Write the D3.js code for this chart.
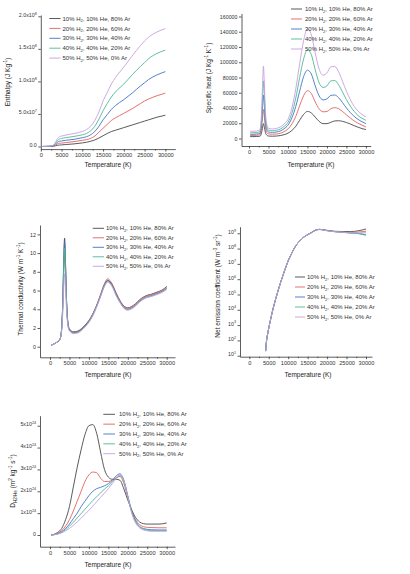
<!DOCTYPE html>
<html><head><meta charset="utf-8">
<script src="https://cdn.jsdelivr.net/npm/d3@7"></script>
<style>html,body{margin:0;padding:0;background:#fff}svg{display:block;font-family:"Liberation Sans",Arial,sans-serif}</style>
</head><body>
<svg id="c" width="410" height="574"></svg>
<script>
// ---------- shared ----------
const mixtures = [
  [["10% H",""],["2","sub"],[", 10% He, 80% Ar",""]],
  [["20% H",""],["2","sub"],[", 20% He, 60% Ar",""]],
  [["30% H",""],["2","sub"],[", 30% He, 40% Ar",""]],
  [["40% H",""],["2","sub"],[", 40% He, 20% Ar",""]],
  [["50% H",""],["2","sub"],[", 50% He, 0% Ar",""]]
];
const colors = ["#474747", "#e0625f", "#4174c4", "#4cb994", "#c89ee0"];
const xTicks = [0, 5000, 10000, 15000, 20000, 25000, 30000];

// ---------- enthalpy (J/kg) ----------
const tEnth = [300, 2000, 3000, 3500, 4000, 4500, 5000, 6000, 8000, 10000, 11000, 12000, 13000, 14000, 15000, 16000, 17000, 18000, 20000, 22000, 24000, 25000, 26000, 28000, 30000];
const enth10 = [0, 0.001e8, 0.004e8, 0.01e8, 0.018e8, 0.022e8, 0.025e8, 0.03e8, 0.04e8, 0.055e8, 0.065e8, 0.08e8, 0.1e8, 0.13e8, 0.165e8, 0.2e8, 0.23e8, 0.25e8, 0.29e8, 0.33e8, 0.37e8, 0.39e8, 0.41e8, 0.45e8, 0.48e8];
const enth20 = [0, 0.002e8, 0.008e8, 0.02e8, 0.04e8, 0.05e8, 0.052e8, 0.06e8, 0.075e8, 0.095e8, 0.105e8, 0.125e8, 0.16e8, 0.22e8, 0.28e8, 0.34e8, 0.4e8, 0.44e8, 0.51e8, 0.58e8, 0.66e8, 0.7e8, 0.73e8, 0.78e8, 0.82e8];
const enth30 = [0, 0.003e8, 0.012e8, 0.032e8, 0.065e8, 0.08e8, 0.085e8, 0.095e8, 0.11e8, 0.135e8, 0.15e8, 0.18e8, 0.23e8, 0.31e8, 0.41e8, 0.49e8, 0.57e8, 0.63e8, 0.72e8, 0.82e8, 0.93e8, 0.98e8, 1.03e8, 1.1e8, 1.15e8];
const enth40 = [0, 0.004e8, 0.016e8, 0.045e8, 0.09e8, 0.115e8, 0.125e8, 0.135e8, 0.155e8, 0.18e8, 0.2e8, 0.24e8, 0.31e8, 0.42e8, 0.55e8, 0.66e8, 0.76e8, 0.84e8, 0.96e8, 1.1e8, 1.23e8, 1.29e8, 1.35e8, 1.43e8, 1.48e8];
const enth50 = [0, 0.005e8, 0.02e8, 0.06e8, 0.12e8, 0.15e8, 0.16e8, 0.175e8, 0.2e8, 0.23e8, 0.26e8, 0.31e8, 0.4e8, 0.53e8, 0.7e8, 0.83e8, 0.96e8, 1.06e8, 1.22e8, 1.39e8, 1.55e8, 1.62e8, 1.68e8, 1.76e8, 1.81e8];
const enthTicks = [0, 5e7, 1e8, 1.5e8, 2e8];
const enthTickLabels = [[["0.0",""]], [["5.0x10",""],["7","sup"]], [["1.0x10",""],["8","sup"]], [["1.5x10",""],["8","sup"]], [["2.0x10",""],["8","sup"]]];

// ---------- specific heat (J/kg/K) ----------
const tCp = [300, 1000, 2000, 2800, 3200, 3500, 3700, 3900, 4200, 4600, 5000, 6000, 7000, 8000, 9000, 10000, 11000, 12000, 13000, 14000, 15000, 16000, 17000, 18000, 19000, 20000, 21000, 22000, 23000, 24000, 25000, 26000, 27000, 28000, 29000, 30000];
const cp10 = [2500, 2500, 2600, 3000, 7000, 15000, 19500, 16000, 8000, 4200, 3200, 3000, 3200, 3800, 5000, 7000, 10500, 16000, 24000, 31500, 35500, 33500, 28000, 22500, 19500, 19500, 21200, 23000, 23300, 22500, 21000, 19000, 16800, 14800, 13000, 11700];
const cp20 = [4000, 4000, 4200, 5000, 13000, 29000, 38000, 31000, 15000, 7500, 6000, 5600, 5900, 6800, 9000, 12500, 19000, 29000, 43000, 56000, 62700, 59000, 48000, 39000, 35000, 35500, 39000, 40500, 39000, 35500, 31000, 27000, 23000, 20000, 17500, 15200];
const cp30 = [5500, 5500, 5800, 7000, 19000, 43000, 57000, 46000, 22000, 11000, 8500, 8000, 8500, 9800, 12800, 17500, 27000, 42000, 62000, 81000, 89600, 84500, 69000, 56000, 50600, 52000, 56500, 57000, 53500, 47000, 40000, 34000, 29000, 25000, 22000, 19500];
const cp40 = [7500, 7500, 7800, 9300, 25000, 57000, 75500, 61000, 29000, 14500, 11000, 10200, 10800, 12300, 15800, 21000, 33000, 53000, 80000, 104000, 116500, 110000, 90000, 73000, 67000, 69000, 75500, 76000, 70500, 61000, 51000, 42500, 35500, 30000, 26500, 23800];
const cp50 = [9500, 9500, 9800, 11500, 32000, 72000, 95000, 77000, 37000, 18000, 13500, 12500, 13200, 15000, 19000, 25000, 40000, 65000, 98000, 128000, 144000, 136000, 112000, 91000, 83000, 86000, 94000, 94500, 87500, 75000, 62000, 51000, 42000, 36000, 31500, 28500];
const cpTicks = [0, 20000, 40000, 60000, 80000, 100000, 120000, 140000, 160000];

// ---------- thermal conductivity (W/m/K) ----------
const tK = [300, 1000, 2000, 2600, 3000, 3300, 3550, 3750, 3950, 4250, 4600, 5000, 6000, 7000, 8000, 9000, 10000, 11000, 12000, 13000, 14000, 14800, 16000, 17000, 18000, 19000, 20000, 21000, 22000, 23000, 24000, 25000, 26000, 27000, 28000, 29000, 30000];
const k10 = [0.15, 0.3, 0.55, 0.85, 2.0, 5.0, 9.5, 11.6, 9.5, 5.0, 2.6, 1.9, 1.6, 1.65, 1.9, 2.3, 2.8, 3.5, 4.4, 5.5, 6.6, 7.1, 6.6, 5.7, 4.9, 4.35, 4.15, 4.3, 4.6, 5.0, 5.3, 5.5, 5.6, 5.75, 5.9, 6.1, 6.45];
const k20 = [0.15, 0.3, 0.55, 0.85, 1.9, 4.5, 8.3, 9.8, 8.2, 4.6, 2.5, 1.85, 1.55, 1.6, 1.85, 2.25, 2.75, 3.5, 4.45, 5.6, 6.75, 7.25, 6.7, 5.75, 4.9, 4.3, 4.1, 4.25, 4.55, 4.95, 5.25, 5.45, 5.55, 5.7, 5.85, 6.05, 6.35];
const k30 = [0.15, 0.3, 0.55, 0.85, 2.0, 4.9, 9.2, 11.2, 9.2, 4.9, 2.5, 1.8, 1.5, 1.55, 1.8, 2.2, 2.7, 3.4, 4.35, 5.45, 6.6, 7.05, 6.55, 5.6, 4.8, 4.2, 4.0, 4.15, 4.45, 4.85, 5.15, 5.35, 5.45, 5.6, 5.75, 5.95, 6.25];
const k40 = [0.15, 0.3, 0.55, 0.85, 1.95, 4.7, 8.8, 10.5, 8.7, 4.7, 2.4, 1.75, 1.45, 1.5, 1.75, 2.15, 2.65, 3.35, 4.3, 5.4, 6.5, 6.95, 6.45, 5.5, 4.75, 4.15, 3.95, 4.1, 4.4, 4.8, 5.1, 5.3, 5.4, 5.55, 5.7, 5.9, 6.2];
const k50 = [0.15, 0.3, 0.55, 0.85, 1.7, 3.8, 6.5, 7.8, 6.6, 3.9, 2.2, 1.7, 1.4, 1.45, 1.7, 2.1, 2.6, 3.3, 4.25, 5.35, 6.45, 6.9, 6.4, 5.45, 4.7, 4.1, 3.9, 4.05, 4.35, 4.75, 5.05, 5.25, 5.35, 5.5, 5.65, 5.85, 6.1];
const kTicks = [0, 2, 4, 6, 8, 10, 12];

// ---------- net emission coefficient ----------
const tNec = [4200, 4400, 4700, 5000, 5500, 6000, 7000, 8000, 9000, 10000, 11000, 12000, 13000, 14000, 15000, 16000, 17000, 18000, 19000, 20000, 22000, 24000, 26000, 28000, 30000];
const nec10 = [2.0e1, 8.0e1, 2.5e2, 6.3e2, 2.5e3, 9.0e3, 8.0e4, 5.6e5, 3.2e6, 1.6e7, 5.6e7, 1.6e8, 3.2e8, 5.6e8, 8.2e8, 1.15e9, 1.6e9, 1.8e9, 1.7e9, 1.55e9, 1.35e9, 1.3e9, 1.3e9, 1.45e9, 1.9e9];
const nec20 = [2.0e1, 8.0e1, 2.5e2, 6.3e2, 2.5e3, 9.0e3, 8.0e4, 5.6e5, 3.2e6, 1.6e7, 5.6e7, 1.6e8, 3.2e8, 5.6e8, 8.0e8, 1.12e9, 1.6e9, 1.8e9, 1.7e9, 1.5e9, 1.3e9, 1.2e9, 1.15e9, 1.2e9, 1.35e9];
const nec30 = [2.0e1, 8.0e1, 2.5e2, 6.3e2, 2.5e3, 9.0e3, 8.0e4, 5.6e5, 3.2e6, 1.6e7, 5.6e7, 1.6e8, 3.2e8, 5.6e8, 7.9e8, 1.1e9, 1.58e9, 1.78e9, 1.68e9, 1.5e9, 1.28e9, 1.15e9, 1.05e9, 9.5e8, 7.5e8];
const nec40 = [2.0e1, 8.0e1, 2.5e2, 6.3e2, 2.5e3, 9.0e3, 8.0e4, 5.6e5, 3.2e6, 1.6e7, 5.6e7, 1.6e8, 3.2e8, 5.6e8, 7.9e8, 1.1e9, 1.56e9, 1.76e9, 1.66e9, 1.48e9, 1.27e9, 1.15e9, 1.05e9, 1.0e9, 8.2e8];
const nec50 = [2.0e1, 8.0e1, 2.5e2, 6.3e2, 2.5e3, 9.0e3, 8.0e4, 5.6e5, 3.2e6, 1.6e7, 5.6e7, 1.6e8, 3.2e8, 5.6e8, 7.8e8, 1.08e9, 1.55e9, 1.75e9, 1.65e9, 1.47e9, 1.27e9, 1.16e9, 1.08e9, 1.05e9, 1.1e9];
const necTicks = [1e1, 1e2, 1e3, 1e4, 1e5, 1e6, 1e7, 1e8, 1e9];
const necTickLabels = [1,2,3,4,5,6,7,8,9].map(e => [["10",""],[String(e),"sup"]]);

// ---------- D H2/He ----------
const tD = [300, 1000, 2000, 3000, 4000, 5000, 6000, 7000, 8000, 9000, 10000, 11000, 12000, 13000, 14000, 15000, 16000, 17000, 18000, 19000, 20000, 21000, 22000, 23000, 24000, 25000, 26000, 28000, 30000];
const d10 = [0, 0.03e24, 0.12e24, 0.3e24, 0.7e24, 1.3e24, 2.2e24, 3.1e24, 3.9e24, 4.6e24, 5.0e24, 5.05e24, 4.65e24, 3.8e24, 3.0e24, 2.65e24, 2.55e24, 2.55e24, 2.5e24, 2.1e24, 1.6e24, 1.15e24, 0.8e24, 0.6e24, 0.52e24, 0.5e24, 0.5e24, 0.5e24, 0.55e24];
const d20 = [0, 0.02e24, 0.08e24, 0.2e24, 0.4e24, 0.7e24, 1.1e24, 1.55e24, 2.0e24, 2.45e24, 2.75e24, 2.88e24, 2.85e24, 2.6e24, 2.45e24, 2.45e24, 2.5e24, 2.62e24, 2.68e24, 2.35e24, 1.7e24, 1.1e24, 0.7e24, 0.48e24, 0.38e24, 0.35e24, 0.34e24, 0.33e24, 0.33e24];
const d30 = [0, 0.015e24, 0.06e24, 0.15e24, 0.3e24, 0.5e24, 0.75e24, 1.0e24, 1.3e24, 1.55e24, 1.8e24, 2.0e24, 2.12e24, 2.18e24, 2.25e24, 2.35e24, 2.5e24, 2.7e24, 2.8e24, 2.5e24, 1.8e24, 1.1e24, 0.65e24, 0.4e24, 0.3e24, 0.26e24, 0.24e24, 0.23e24, 0.23e24];
const d40 = [0, 0.012e24, 0.05e24, 0.12e24, 0.24e24, 0.4e24, 0.58e24, 0.78e24, 0.98e24, 1.18e24, 1.38e24, 1.58e24, 1.75e24, 1.92e24, 2.1e24, 2.25e24, 2.42e24, 2.6e24, 2.72e24, 2.45e24, 1.75e24, 1.05e24, 0.6e24, 0.37e24, 0.27e24, 0.22e24, 0.2e24, 0.2e24, 0.2e24];
const d50 = [0, 0.01e24, 0.04e24, 0.1e24, 0.19e24, 0.3e24, 0.44e24, 0.6e24, 0.77e24, 0.95e24, 1.13e24, 1.32e24, 1.52e24, 1.72e24, 1.92e24, 2.12e24, 2.35e24, 2.58e24, 2.76e24, 2.5e24, 1.75e24, 1.0e24, 0.55e24, 0.33e24, 0.23e24, 0.19e24, 0.17e24, 0.17e24, 0.17e24];
const dTicks = [0, 1e24, 2e24, 3e24, 4e24, 5e24];
const dTickLabels = [[["0",""]]].concat([1,2,3,4,5].map(m => [[m + "x10",""],["24","sup"]]));

// ---------- drawing ----------
const svg = d3.select("#c");
const FS = 6;
const FSX = 5.7;
const FSY = 5.3;

function rich(text, parts, fs) {
  let shift = 0;
  parts.forEach(([t, m]) => {
    const target = m === "sup" ? -fs * 0.4 : (m === "sub" ? fs * 0.28 : 0);
    const ts = text.append("tspan").text(t).attr("dy", (target - shift).toFixed(2));
    if (m) ts.attr("font-size", (fs * 0.7).toFixed(2));
    shift = target;
  });
}

function panel(cfg) {
  const g = svg.append("g");
  const x = d3.scaleLinear().domain(cfg.xDomain).range(cfg.xRange);
  const y = cfg.y;
  const [yb, yt] = y.range();
  const x0 = cfg.xRange[0];

  // curves
  const line = d3.line().x(d => x(d[0])).y(d => y(d[1])).curve(d3.curveMonotoneX);
  cfg.series.forEach((s, i) => {
    const pts = cfg.t.map((t, j) => [t, s[j]]);
    g.append("path").attr("d", line(pts)).attr("fill", "none")
      .attr("stroke", colors[i]).attr("stroke-width", 0.9);
  });

  // axes
  const xa = g.append("g").attr("transform", `translate(0,${yb})`)
    .call(d3.axisBottom(x).tickValues(xTicks).tickSize(2.5).tickSizeOuter(0).tickPadding(1.5).tickFormat(d3.format("d")));
  g.append("g").attr("transform", `translate(0,${yb})`)
    .call(d3.axisBottom(x).tickValues(xTicks.slice(0, -1).map(v => v + 2500)).tickSize(1.5).tickSizeOuter(0).tickFormat(""))
    .call(a => a.selectAll("line").attr("stroke", "#333").attr("stroke-width", 0.7))
    .select(".domain").remove();
  const ya = g.append("g").attr("transform", `translate(${x0},0)`)
    .call(d3.axisLeft(y).tickValues(cfg.yTicks).tickSize(2.5).tickSizeOuter(0).tickPadding(1.5)
      .tickFormat(cfg.yLabels ? "" : d3.format("d")));
  xa.selectAll("text").attr("font-size", FSX);
  ya.selectAll("text").attr("font-size", FSY);
  [xa, ya].forEach(a => {
    a.selectAll("text").attr("fill", "#333").attr("font-family", "Liberation Sans, Arial, sans-serif");
    a.selectAll("line,path").attr("stroke", "#333").attr("stroke-width", 0.8);
  });
  if (cfg.yLabels) {
    ya.selectAll(".tick text").each(function(d) {
      const t = d3.select(this);
      t.text(null);
      rich(t, cfg.yLabels[cfg.yTicks.indexOf(d)], FSY);
    });
  }

  // axis titles
  const xt = g.append("text").attr("x", cfg.xTitle[0]).attr("y", cfg.xTitle[1])
    .attr("text-anchor", "middle").attr("font-size", 6.5).attr("fill", "#222");
  rich(xt, [["Temperature (K)", ""]], 6.5);
  const yt2 = g.append("text").attr("transform", `translate(${cfg.yTitle[0]},${cfg.yTitle[1]}) rotate(-90)`)
    .attr("text-anchor", "middle").attr("font-size", 6.5).attr("fill", "#222");
  rich(yt2, cfg.yTitleParts, 6.5);

  // legend
  const L = cfg.legend;
  mixtures.forEach((m, i) => {
    const yy = L.y + i * L.dy;
    g.append("line").attr("x1", L.x1).attr("x2", L.x2).attr("y1", yy).attr("y2", yy)
      .attr("stroke", colors[i]).attr("stroke-width", 0.9);
    const tx = g.append("text").attr("x", L.tx).attr("y", yy + 2.1)
      .attr("font-size", FS).attr("fill", "#333");
    rich(tx, m, FS);
  });
}

// Panel 1: enthalpy
panel({
  t: tEnth, series: [enth10, enth20, enth30, enth40, enth50],
  xDomain: [0, 32400], xRange: [40.8, 175.3],
  y: d3.scaleLinear().domain([-0.04e8, 2.02e8]).range([149.1, 15.0]),
  yTicks: enthTicks, yLabels: enthTickLabels,
  xTitle: [108, 166.5], yTitle: [10, 82],
  yTitleParts: [["Enthalpy (J Kg",""],["-1","sup"],[")",""]],
  legend: {x1: 49.3, x2: 60.5, tx: 62.5, y: 18.5, dy: 9.9}
});

// Panel 2: specific heat
panel({
  t: tCp, series: [cp10, cp20, cp30, cp40, cp50],
  xDomain: [-1928, 31234], xRange: [241.5, 370.7],
  y: d3.scaleLinear().domain([-9836, 163934]).range([146, 13.5]),
  yTicks: cpTicks,
  xTitle: [311, 166.5], yTitle: [211, 78],
  yTitleParts: [["Specific heat (J Kg",""],["-1","sup"],[" K",""],["-1","sup"],[")",""]],
  legend: {x1: 291, x2: 302, tx: 305, y: 9, dy: 10}
});

// Panel 3: thermal conductivity
panel({
  t: tK, series: [k10, k20, k30, k40, k50],
  xDomain: [-2571, 32134], xRange: [40, 175],
  y: d3.scaleLinear().domain([-1.13, 13.0]).range([357.3, 225]),
  yTicks: kTicks,
  xTitle: [108, 376.5], yTitle: [23, 289],
  yTitleParts: [["Thermal conductivity (W m",""],["-1","sup"],[" K",""],["-1","sup"],[")",""]],
  legend: {x1: 92.7, x2: 104, tx: 106, y: 228.3, dy: 9.5}
});

// Panel 4: net emission coefficient
panel({
  t: tNec, series: [nec10, nec20, nec30, nec40, nec50],
  xDomain: [-2390, 31540], xRange: [240, 372],
  y: d3.scaleLog().domain([Math.pow(10, 0.935), Math.pow(10, 9.43)]).range([356.7, 226.7]),
  yTicks: necTicks, yLabels: necTickLabels,
  xTitle: [308, 376.5], yTitle: [220, 286],
  yTitleParts: [["Net emission coefficient (W m",""],["-3","sup"],[" sr",""],["-1","sup"],[")",""]],
  legend: {x1: 295, x2: 305, tx: 307, y: 277, dy: 10}
});

// Panel 5: D H2/He
panel({
  t: tD, series: [d10, d20, d30, d40, d50],
  xDomain: [-2571, 32134], xRange: [40, 175],
  y: d3.scaleLinear().domain([-0.535e24, 5.458e24]).range([546.7, 415.7]),
  yTicks: dTicks, yLabels: dTickLabels,
  xTitle: [108, 566.5], yTitle: [15, 481],
  yTitleParts: [["D",""],["H2/He","sub"],[" (m",""],["2","sup"],[" kg",""],["-1","sup"],[" s",""],["-1","sup"],[")",""]],
  legend: {x1: 103.3, x2: 115, tx: 119, y: 414.3, dy: 9.85}
});
</script>
</body></html>
